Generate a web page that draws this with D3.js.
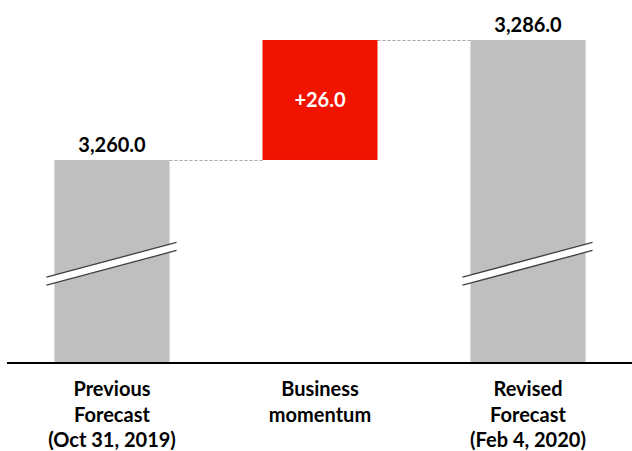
<!DOCTYPE html>
<html>
<head>
<meta charset="utf-8">
<script src="https://cdn.jsdelivr.net/npm/d3@7"></script>
<style>
  html, body { margin: 0; padding: 0; background: #fff; }
  svg { display: block; font-family: Lato, "Open Sans", sans-serif; }
</style>
</head>
<body>
<svg id="chart" width="632" height="451"></svg>
<script>
// Waterfall: previous forecast -> business momentum -> revised forecast
const categories = ["Previous\nForecast\n(Oct 31, 2019)", "Business\nmomentum", "Revised\nForecast\n(Feb 4, 2020)"];
const kinds = ["total", "delta", "total"];
const values = [3260.0, 26.0, 3286.0];
const valueLabels = ["3,260.0", "+26.0", "3,286.0"];
const axisFloor = 3216; // broken axis: bars start from this displayed floor

const width = 632, height = 451;
const svg = d3.select("#chart");

const x = d3.scaleBand()
  .domain(categories)
  .range([8, 632])
  .paddingInner(0.447)
  .paddingOuter(0.2235);

const y = d3.scaleLinear()
  .domain([axisFloor, 3286])
  .range([363, 40]);

// compute bar extents
let running = 0;
const bars = categories.map((c, i) => {
  let lo, hi;
  if (kinds[i] === "total") { lo = axisFloor; hi = values[i]; running = values[i]; }
  else { lo = running; hi = running + values[i]; running = hi; }
  return { c, i, lo, hi, kind: kinds[i], label: valueLabels[i] };
});

const grey = "#bfbfbf", red = "#f01400";

// dashed connectors between consecutive bars
for (let i = 0; i < bars.length - 1; i++) {
  const level = bars[i].hi;
  svg.append("line")
    .attr("x1", x(bars[i].c) + x.bandwidth())
    .attr("x2", x(bars[i + 1].c))
    .attr("y1", y(level) + 0.5)
    .attr("y2", y(level) + 0.5)
    .attr("stroke", "#a6a6a6")
    .attr("stroke-width", 1)
    .attr("stroke-dasharray", "3,2");
}

svg.selectAll("rect.bar")
  .data(bars)
  .join("rect")
  .attr("class", "bar")
  .attr("x", d => x(d.c))
  .attr("width", x.bandwidth())
  .attr("y", d => y(d.hi))
  .attr("height", d => y(d.lo) - y(d.hi))
  .attr("fill", d => d.kind === "total" ? grey : red);

// axis-break marks on the total bars
const breakVal = 3237.5;
bars.filter(d => d.kind === "total").forEach(d => {
  const x0 = x(d.c) - 8, x1 = x(d.c) + x.bandwidth() + 7;
  const cy = y(breakVal);
  const rise = 34.7;
  const gap = 8;
  const ya = cy + rise / 2 - gap / 2, yb = cy - rise / 2 - gap / 2;
  svg.append("polygon")
    .attr("points", [[x0, ya], [x1, yb], [x1, yb + gap], [x0, ya + gap]].map(p => p.join(",")).join(" "))
    .attr("fill", "#fff");
  [0, gap].forEach(o => {
    svg.append("line")
      .attr("x1", x0).attr("y1", ya + o)
      .attr("x2", x1).attr("y2", yb + o)
      .attr("stroke", "#404040")
      .attr("stroke-width", 1.3);
  });
});

// value labels
svg.selectAll("text.val")
  .data(bars)
  .join("text")
  .attr("class", "val")
  .attr("x", d => x(d.c) + x.bandwidth() / 2)
  .attr("y", d => d.kind === "total" ? y(d.hi) - 8 : (y(d.hi) + y(d.lo)) / 2 + 7)
  .attr("text-anchor", "middle")
  .attr("font-weight", 700)
  .attr("font-size", 20)
  .attr("fill", d => d.kind === "total" ? "#000" : "#fff")
  .text(d => d.label);

// baseline axis
const xAxis = d3.axisBottom(x).tickSize(0).tickFormat("");
const axisG = svg.append("g")
  .attr("transform", `translate(0,${y(axisFloor)})`)
  .call(xAxis);
axisG.select(".domain")
  .attr("d", "M7,0H632")
  .attr("stroke", "#000")
  .attr("stroke-width", 2);

// category labels
svg.selectAll("text.cat")
  .data(categories)
  .join("text")
  .attr("class", "cat")
  .attr("text-anchor", "middle")
  .attr("font-weight", 700)
  .attr("font-size", 20)
  .attr("fill", "#000")
  .each(function (c) {
    const t = d3.select(this);
    c.split("\n").forEach((line, k) => {
      t.append("tspan")
        .attr("x", x(c) + x.bandwidth() / 2)
        .attr("y", 396 + k * 25.5)
        .text(line);
    });
  });
</script>
</body>
</html>
